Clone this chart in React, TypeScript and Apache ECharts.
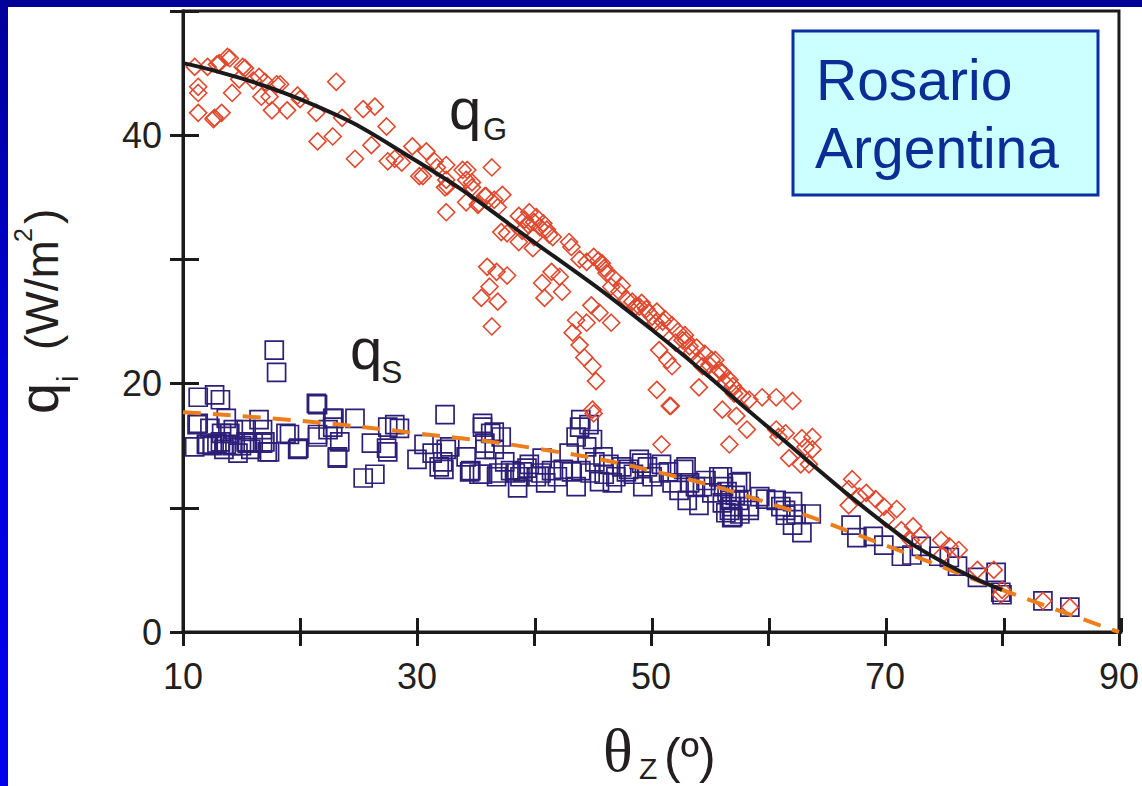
import React, { useEffect, useRef } from "react";
import * as echarts from "echarts";

// q_G measurements (theta_z in degrees, q in W/m2)
const qgPoints: [number, number][] = [
  [11.0, 45.5], [12.1, 45.5], [13.1, 45.8], [14.0, 46.2], [15.1, 45.5], [11.3, 43.4], [11.3, 41.8],
  [12.7, 41.4], [13.3, 41.8], [14.2, 43.4], [16.0, 44.4], [16.5, 44.7], [18.0, 44.1], [17.4, 43.1],
  [17.6, 42.0], [18.9, 42.0], [19.8, 43.2], [21.4, 41.8], [21.5, 39.5], [22.8, 39.9], [23.1, 44.3],
  [23.6, 41.4], [24.7, 38.1], [25.4, 42.1], [26.4, 42.3], [26.1, 39.2], [27.4, 40.7], [27.5, 37.9],
  [28.1, 38.1], [11.3, 43.9], [12.6, 41.3], [13.8, 46.3], [12.9, 45.7], [14.8, 44.5], [15.3, 45.4],
  [17.0, 44.3], [16.7, 43.1], [18.3, 44.1], [20.0, 42.9], [28.7, 37.8], [29.6, 39.1], [30.2, 36.7],
  [30.8, 38.7], [31.7, 37.4], [32.5, 36.4], [32.4, 35.8], [33.9, 37.2], [34.2, 36.4], [34.7, 35.8],
  [35.3, 34.5], [36.4, 37.4], [36.6, 34.8], [32.5, 33.8], [35.8, 35.1], [31.5, 37.9], [32.5, 37.6],
  [30.5, 36.7], [32.6, 35.9], [34.3, 37.2], [34.7, 36.2], [34.2, 34.6], [35.2, 34.4], [35.9, 35.1],
  [37.3, 35.2], [36.9, 34.2], [37.2, 32.2], [37.7, 32.1], [38.7, 31.4], [39.6, 33.8], [40.0, 33.0],
  [40.5, 32.6], [41.1, 32.4], [41.6, 31.8], [39.9, 30.9], [36.0, 29.4], [36.8, 29.0], [37.7, 28.7],
  [36.2, 27.8], [35.5, 26.9], [36.9, 26.6], [36.4, 24.6], [43.0, 31.4], [43.2, 31.0], [40.7, 28.1],
  [41.5, 29.0], [42.2, 28.6], [40.9, 26.9], [42.4, 27.4], [43.9, 30.0], [44.5, 29.8], [45.8, 29.7],
  [46.2, 28.9], [46.6, 27.8], [47.3, 27.4], [44.9, 26.3], [43.6, 25.1], [44.5, 24.9], [45.6, 25.7],
  [46.6, 24.9], [43.3, 24.1], [43.9, 23.1], [44.3, 22.1], [45.0, 21.4], [45.3, 20.2], [48.4, 26.6],
  [49.0, 26.2], [49.6, 26.0], [50.1, 25.4], [51.0, 25.0], [50.7, 22.7], [51.4, 21.9], [51.8, 21.4],
  [50.5, 19.5], [51.7, 18.2], [52.7, 23.5], [53.3, 23.0], [53.5, 22.5], [54.4, 21.4], [55.2, 21.9],
  [55.8, 21.1], [56.7, 20.3], [57.1, 19.2], [54.1, 19.7], [56.1, 17.9], [45.0, 17.9], [45.1, 17.6],
  [47.9, 26.8], [48.7, 26.2], [49.2, 26.5], [49.8, 25.7], [50.4, 24.9], [50.9, 24.3], [52.1, 23.3],
  [53.0, 23.5], [54.1, 21.9], [55.5, 21.9], [56.1, 20.9], [57.5, 19.2], [58.4, 18.7], [59.5, 18.9],
  [60.7, 18.9], [62.1, 18.6], [51.6, 18.2], [57.3, 17.4], [58.2, 16.3], [56.7, 15.1], [50.9, 15.1],
  [60.7, 16.3], [61.5, 16.0], [60.9, 15.7], [62.9, 15.6], [63.8, 15.7], [63.2, 14.9], [63.8, 14.7],
  [61.8, 14.0], [62.8, 13.5], [63.5, 13.5], [67.2, 12.3], [66.9, 11.5], [67.8, 10.9], [66.9, 10.2],
  [68.4, 11.2], [69.2, 10.7], [69.9, 10.1], [71.0, 9.9], [70.1, 9.1], [71.4, 8.2], [72.4, 8.5],
  [73.0, 7.7], [72.2, 7.4], [74.8, 7.4], [75.5, 6.9], [76.3, 6.6], [74.9, 6.2], [77.9, 5.0],
  [79.3, 5.0], [80.0, 3.4], [79.9, 3.0], [83.5, 2.5], [85.8, 2.0],
  [38.7, 33.5], [39.2, 33.2], [39.5, 32.8], [40.2, 33.4], [40.8, 32.9], [41.3, 32.0], [39.0, 32.3],
  [40.0, 31.8], [45.1, 30.2], [45.5, 29.9], [46.0, 29.3], [46.8, 28.5], [47.5, 27.9], [50.5, 25.8],
  [51.2, 25.2], [51.8, 24.7], [52.3, 24.2], [52.9, 23.9], [53.9, 22.9], [54.6, 22.4], [55.0, 21.5],
  [55.6, 20.8], [56.4, 20.0], [57.0, 19.8], [57.8, 19.0],
];

// q_S measurements
const qsPoints: [number, number][] = [
  [11.3, 18.9], [12.7, 19.1], [13.2, 18.7], [17.8, 22.7], [18.0, 20.9], [11.3, 16.8], [12.3, 16.4],
  [11.0, 14.9], [12.0, 15.1], [12.9, 15.2], [14.0, 16.0], [13.7, 15.1], [14.7, 14.4], [15.4, 16.3],
  [15.5, 15.2], [16.5, 17.1], [16.8, 15.2], [17.2, 14.5], [18.8, 16.0], [19.9, 14.8], [21.5, 18.3],
  [21.5, 15.9], [22.8, 17.2], [22.4, 16.3], [23.4, 15.3], [23.2, 14.0], [24.7, 17.2], [25.4, 12.4],
  [26.4, 12.7], [26.1, 15.2], [27.5, 16.5], [27.5, 14.5], [11.2, 16.7], [12.1, 15.1], [13.7, 17.2],
  [13.3, 16.0], [14.3, 16.3], [15.4, 15.3], [16.8, 16.3], [17.4, 14.5], [19.1, 15.9], [19.8, 14.7],
  [21.4, 18.4], [21.5, 15.7], [22.9, 17.2], [22.8, 16.5], [23.2, 14.1], [27.4, 14.8], [28.1, 16.7],
  [28.5, 16.4], [32.4, 17.5], [30.0, 13.9], [30.6, 15.1], [31.3, 14.4], [32.2, 13.7], [31.9, 13.3],
  [32.8, 14.9], [34.2, 14.1], [34.5, 12.9], [35.3, 12.7], [35.6, 16.5], [36.3, 16.0], [35.8, 15.2],
  [36.6, 14.7], [36.8, 12.5], [32.5, 14.7], [32.3, 13.1], [35.6, 16.8], [36.6, 16.1], [37.2, 15.7],
  [35.8, 14.7], [34.6, 13.0], [35.6, 12.7], [37.0, 12.8], [37.5, 13.7], [38.8, 12.5], [38.6, 11.6],
  [39.6, 13.5], [40.2, 12.5], [40.7, 14.0], [41.0, 12.0], [42.0, 12.5], [43.0, 14.4], [43.6, 15.7],
  [43.9, 16.5], [44.0, 17.1], [44.7, 16.7], [45.0, 15.5], [44.5, 14.9], [43.6, 11.7], [45.2, 13.7],
  [45.9, 14.1], [46.4, 13.5], [46.7, 12.0], [45.6, 12.1], [47.9, 12.9], [49.0, 13.9], [49.7, 13.3],
  [50.1, 12.5], [49.3, 11.7], [50.9, 13.5], [51.5, 12.9], [51.8, 12.0], [53.0, 13.3], [52.4, 11.4],
  [53.1, 10.6], [53.8, 11.7], [54.1, 10.2], [54.7, 12.2], [55.2, 11.2], [55.8, 12.5], [56.2, 11.7],
  [56.1, 10.4], [56.7, 9.8], [57.0, 9.3], [57.5, 10.6], [57.7, 12.1], [58.4, 10.1], [59.3, 10.9],
  [60.7, 10.6], [61.1, 10.1], [61.5, 9.4], [62.1, 10.5], [62.1, 8.6], [48.1, 13.1], [49.2, 13.6],
  [50.7, 12.8], [52.8, 13.1], [53.3, 12.0], [54.4, 11.7], [56.1, 12.5], [57.4, 12.0], [56.9, 10.1],
  [58.4, 9.8], [59.8, 10.7], [61.5, 9.8], [62.4, 9.5], [63.7, 9.5], [62.9, 8.0], [67.1, 8.6],
  [67.6, 7.6], [69.0, 7.7], [69.9, 7.0], [71.4, 6.1], [72.3, 6.2], [73.1, 6.9], [74.6, 6.1],
  [75.5, 6.0], [76.2, 5.3], [77.9, 4.4], [79.5, 4.8], [79.9, 3.2], [80.0, 3.0], [83.5, 2.5],
  [85.8, 2.0], [38.0, 13.0], [38.4, 12.8], [39.0, 12.9], [39.4, 13.2], [40.6, 12.8], [41.5, 13.0],
  [42.5, 13.1], [43.2, 12.9], [44.0, 13.0], [44.8, 12.8], [46.0, 12.7], [47.0, 12.5], [47.5, 13.3],
  [48.5, 12.7], [56.4, 9.6], [56.8, 10.6], [57.2, 11.0], [56.5, 11.3], [57.6, 9.5], [56.9, 9.2],
  [12.5, 15.0], [13.2, 15.3], [14.2, 15.0], [15.0, 15.0], [16.0, 15.2], [17.0, 15.3], [15.8, 14.7],
  [13.5, 14.7],
];

// fitted curves
const fitG: [number, number][] = [
  [10, 45.8], [20, 42.9], [30, 37.9], [40, 31.4], [50, 24.4], [60, 16.5], [70, 8.7], [75, 5.6], [80, 3.4],
];
const fitS: [number, number][] = [
  [10, 17.7], [20, 17.0], [30, 16.0], [40, 14.8], [50, 13.0], [60, 10.4], [70, 7.0], [80, 3.4], [90, 0],
];

const xLabels = [10, 30, 50, 70, 90];
const yLabels = [0, 20, 40];

const SANS = "'Liberation Sans', Arial, Helvetica, sans-serif";
const SERIF = "'Liberation Serif', 'Times New Roman', serif";
const INK = "#231f20";
const AXIS = "#1a1a1a";

function txt(x: number, y: number, text: string, size: number, family = SANS, fill = INK) {
  return {
    type: "text",
    x,
    y,
    style: {
      text,
      fontSize: size,
      fontFamily: family,
      fill,
      textAlign: "left",
      align: "left",
      textVerticalAlign: "middle",
      verticalAlign: "middle",
    },
  };
}

export default function App() {
  const ref = useRef<HTMLDivElement>(null);
  useEffect(() => {
    if (!ref.current) return;
    const chart = echarts.init(ref.current, undefined, { renderer: "svg" });
    const gridRect = { left: 183, top: 11, right: 21, bottom: 154 };
    const lineStyle = { color: AXIS, width: 3 };
    const option: any = {
      animation: false,
      backgroundColor: "#ffffff",
      grid: [
        { ...gridRect, show: true, borderColor: AXIS, borderWidth: 3, backgroundColor: "transparent" },
        { ...gridRect, show: false },
      ],
      xAxis: [
        {
          type: "value", gridIndex: 0, min: 10, max: 90, interval: 10, position: "bottom",
          axisLine: { show: true, onZero: false, lineStyle },
          axisTick: { show: true, inside: false, length: 14, lineStyle },
          axisLabel: {
            show: true, margin: 26, fontSize: 36, fontFamily: SANS, color: INK,
            formatter: (v: number) => (xLabels.includes(v) ? String(v) : ""),
          },
          splitLine: { show: false },
        },
        {
          type: "value", gridIndex: 1, min: 10, max: 90, interval: 10, position: "bottom",
          axisLine: { show: true, onZero: false, lineStyle },
          axisTick: { show: true, inside: true, length: 14, lineStyle },
          axisLabel: { show: false },
          splitLine: { show: false },
        },
      ],
      yAxis: [
        {
          type: "value", gridIndex: 0, min: 0, max: 50, interval: 10, position: "left",
          axisLine: { show: true, onZero: false, lineStyle },
          axisTick: { show: true, inside: false, length: 13, lineStyle },
          axisLabel: {
            show: true, margin: 21, fontSize: 36, fontFamily: SANS, color: INK,
            formatter: (v: number) => (yLabels.includes(v) ? String(v) : ""),
          },
          splitLine: { show: false },
        },
        {
          type: "value", gridIndex: 1, min: 0, max: 50, interval: 10, position: "left",
          axisLine: { show: true, onZero: false, lineStyle },
          axisTick: { show: true, inside: true, length: 16, lineStyle },
          axisLabel: { show: false },
          splitLine: { show: false },
        },
      ],
      series: [
        {
          type: "scatter", xAxisIndex: 0, yAxisIndex: 0, data: qsPoints, symbol: "rect", symbolSize: 18,
          itemStyle: { color: "rgba(255,255,255,0)", borderColor: "#2d1f78", borderWidth: 1.7, opacity: 1 },
          z: 2,
        },
        {
          type: "scatter", xAxisIndex: 0, yAxisIndex: 0, data: qgPoints, symbol: "diamond", symbolSize: 17,
          itemStyle: { color: "rgba(255,255,255,0)", borderColor: "#e1482d", borderWidth: 1.6, opacity: 1 },
          z: 3,
        },
        {
          type: "line", xAxisIndex: 0, yAxisIndex: 0, data: fitS, smooth: 0.5,
          showSymbol: false, lineStyle: { color: "#ec7f1c", width: 4, type: [18, 12] }, z: 4,
        },
        {
          type: "line", xAxisIndex: 0, yAxisIndex: 0, data: fitG, smooth: 0.5,
          showSymbol: false, lineStyle: { color: "#1a1a1a", width: 4 }, z: 5,
        },
      ],
      graphic: [
        // slide frame bands
        { type: "rect", shape: { x: 0, y: 0, width: 1142, height: 7 }, style: { fill: "#000099" }, z: 100 },
        {
          type: "rect", shape: { x: 0, y: 0, width: 8, height: 786 },
          style: {
            fill: new echarts.graphic.LinearGradient(0, 0, 0, 1, [
              { offset: 0, color: "#000099" },
              { offset: 0.5, color: "#0000dd" },
              { offset: 1, color: "#0000ee" },
            ]),
          },
          z: 100,
        },
        // place box
        {
          type: "rect", shape: { x: 793, y: 31, width: 305, height: 164 },
          style: { fill: "#ccffff", stroke: "#0a2fa0", lineWidth: 3 }, z: 50,
        },
        { ...txt(816, 80, "Rosario", 57, SANS, "#0a2d96"), z: 51 },
        { ...txt(815, 148, "Argentina", 57, SANS, "#0a2d96"), z: 51 },
        // series annotations
        { ...txt(449, 108, "q", 58), z: 51 },
        { ...txt(483, 129, "G", 31), z: 51 },
        { ...txt(350, 348, "q", 58), z: 51 },
        { ...txt(381, 372, "S", 32), z: 51 },
        // x axis title
        { ...txt(603, 750, "\u03b8", 62, SERIF), z: 51 },
        { ...txt(639, 768, "Z", 30), z: 51 },
        { ...txt(664, 756, "(\u00ba)", 50), z: 51 },
        // y axis title (rotated)
        {
          type: "group", x: 58, y: 414, rotation: Math.PI / 2, z: 51,
          children: [
            txt(0, -19.4, "q", 56),
            txt(32, 10, "i", 29),
            txt(64, -15.9, "(W/m", 46),
            txt(172, -34.7, "2", 25),
            txt(190, -15.9, ")", 46),
          ],
        },
      ],
    };
    chart.setOption(option);
    return () => chart.dispose();
  }, []);
  return (
    <div
      ref={ref}
      style={{ position: "absolute", left: 0, top: 0, width: 1142, height: 786, background: "#fff" }}
    />
  );
}
